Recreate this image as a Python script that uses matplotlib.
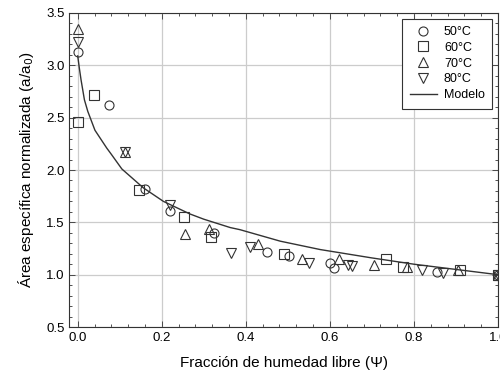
import matplotlib
matplotlib.use("Agg")
import matplotlib.pyplot as plt
from matplotlib.ticker import MultipleLocator

plt.rcParams['font.family'] = ['Liberation Sans', 'DejaVu Sans']

# data
x_50 = [0.0, 0.074, 0.159, 0.220, 0.325, 0.450, 0.503, 0.601, 0.609, 0.855, 1.0]
y_50 = [3.13, 2.62, 1.82, 1.61, 1.40, 1.22, 1.18, 1.11, 1.06, 1.03, 1.0]

x_60 = [0.0, 0.039, 0.145, 0.252, 0.317, 0.490, 0.734, 0.774, 0.910, 1.0]
y_60 = [2.46, 2.72, 1.81, 1.55, 1.36, 1.20, 1.15, 1.07, 1.04, 1.0]

x_70 = [0.0, 0.113, 0.255, 0.313, 0.429, 0.534, 0.622, 0.704, 0.783, 0.906, 1.0]
y_70 = [3.35, 2.17, 1.39, 1.44, 1.29, 1.15, 1.15, 1.09, 1.07, 1.04, 1.0]

x_80 = [0.0, 0.113, 0.219, 0.364, 0.410, 0.551, 0.643, 0.652, 0.820, 0.870, 1.0]
y_80 = [3.22, 2.17, 1.67, 1.21, 1.26, 1.11, 1.09, 1.08, 1.04, 1.02, 1.0]

x_model = [0.0, 0.004, 0.008, 0.016, 0.024, 0.041, 0.069, 0.08, 0.105, 0.156, 0.204,
           0.267, 0.30, 0.363, 0.386, 0.482, 0.577, 0.70, 0.80, 0.90, 1.0]
y_model = [3.09, 2.97, 2.86, 2.67, 2.56, 2.38, 2.21, 2.15, 2.01, 1.83, 1.70,
           1.58, 1.53, 1.45, 1.43, 1.32, 1.24, 1.16, 1.10, 1.05, 1.0]

fig = plt.figure(figsize=(5, 3.81), dpi=100)
ax = fig.add_axes([0.1386, 0.1417, 0.8574, 0.8242])

mk = dict(linestyle='none', markersize=6.5, markerfacecolor='none',
          markeredgecolor='#333333', markeredgewidth=0.8)
ax.plot(x_50, y_50, marker='o', label='50°C', **mk)
ax.plot(x_60, y_60, marker='s', label='60°C', **mk)
ax.plot(x_70, y_70, marker='^', label='70°C', **mk)
ax.plot(x_80, y_80, marker='v', label='80°C', **mk)
ax.plot(x_model, y_model, color='#333333', linewidth=1.0, label='Modelo')

ax.set_xlim(-0.02, 1.0)
ax.set_ylim(0.5, 3.5)
ax.xaxis.set_major_locator(MultipleLocator(0.2))
ax.xaxis.set_minor_locator(MultipleLocator(0.04))
ax.yaxis.set_major_locator(MultipleLocator(0.5))
ax.yaxis.set_minor_locator(MultipleLocator(0.1))
ax.tick_params(which='both', direction='in', top=True, right=True,
               labelsize=9.5, width=0.6, color='#333333')
ax.tick_params(which='major', length=4)
ax.tick_params(which='minor', length=2.5)
ax.grid(True, which='major', color='#cccccc', linewidth=0.9)
ax.set_axisbelow(True)
for s in ax.spines.values():
    s.set_linewidth(0.8)
    s.set_color('#333333')

ax.set_xlabel('Fracción de humedad libre (Ψ)', fontsize=11, labelpad=9)
ax.set_ylabel('Área específica normalizada (a/a$_0$)', fontsize=11, labelpad=7)

leg = ax.legend(loc='upper right', fontsize=9, fancybox=False, framealpha=1,
                edgecolor='#333333', borderpad=0.6, labelspacing=0.3,
                handlelength=2.2, handletextpad=0.55, borderaxespad=0.45)
leg.get_frame().set_linewidth(0.8)

fig.savefig('out.png', dpi=100)
